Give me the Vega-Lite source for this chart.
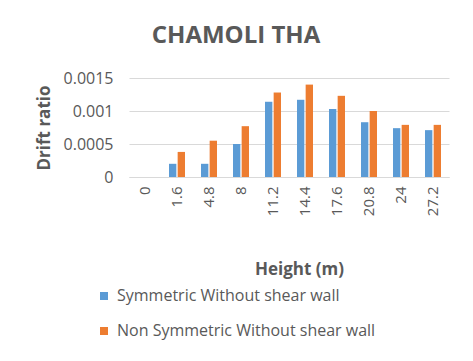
{
  "$schema": "https://vega.github.io/schema/vega-lite/v6.json",
  "width": 320,
  "height": 99,
  "autosize": {"type": "none"},
  "padding": {"left": 129, "top": 78, "right": 24, "bottom": 184},
  "background": "white",
  "title": {
    "text": "CHAMOLI THA",
    "font": "Open Sans",
    "fontSize": 24,
    "fontWeight": "bold",
    "color": "#595959",
    "anchor": "middle",
    "baseline": "alphabetic",
    "offset": 33,
    "dx": -53,
    "dy": 30
  },
  "data": {
    "values": [
      {"height": "0", "series": "Symmetric Without shear wall", "drift": 0},
      {"height": "0", "series": "Non Symmetric Without shear wall", "drift": 0},
      {"height": "1.6", "series": "Symmetric Without shear wall", "drift": 0.0002},
      {"height": "1.6", "series": "Non Symmetric Without shear wall", "drift": 0.00038},
      {"height": "4.8", "series": "Symmetric Without shear wall", "drift": 0.0002},
      {"height": "4.8", "series": "Non Symmetric Without shear wall", "drift": 0.00055},
      {"height": "8", "series": "Symmetric Without shear wall", "drift": 0.0005},
      {"height": "8", "series": "Non Symmetric Without shear wall", "drift": 0.00077},
      {"height": "11.2", "series": "Symmetric Without shear wall", "drift": 0.00114},
      {"height": "11.2", "series": "Non Symmetric Without shear wall", "drift": 0.00128},
      {"height": "14.4", "series": "Symmetric Without shear wall", "drift": 0.00117},
      {"height": "14.4", "series": "Non Symmetric Without shear wall", "drift": 0.0014},
      {"height": "17.6", "series": "Symmetric Without shear wall", "drift": 0.00103},
      {"height": "17.6", "series": "Non Symmetric Without shear wall", "drift": 0.00123},
      {"height": "20.8", "series": "Symmetric Without shear wall", "drift": 0.00083},
      {"height": "20.8", "series": "Non Symmetric Without shear wall", "drift": 0.001},
      {"height": "24", "series": "Symmetric Without shear wall", "drift": 0.00074},
      {"height": "24", "series": "Non Symmetric Without shear wall", "drift": 0.00079},
      {"height": "27.2", "series": "Symmetric Without shear wall", "drift": 0.00071},
      {"height": "27.2", "series": "Non Symmetric Without shear wall", "drift": 0.00079}
    ]
  },
  "mark": {"type": "bar"},
  "encoding": {
    "x": {
      "field": "height",
      "type": "ordinal",
      "sort": ["0", "1.6", "4.8", "8", "11.2", "14.4", "17.6", "20.8", "24", "27.2"],
      "scale": {"paddingInner": 0.5, "paddingOuter": 0.25},
      "axis": {
        "title": "Height (m)",
        "titleFont": "Open Sans",
        "titleFontSize": 17,
        "titleFontWeight": "bold",
        "titleColor": "#595959",
        "titleX": 170,
        "titleY": 84,
        "titleBaseline": "top",
        "labelAngle": -90,
        "labelFont": "Open Sans",
        "labelFontSize": 15,
        "labelColor": "#595959",
        "labelPadding": 9,
        "ticks": false,
        "domainColor": "#d9d9d9",
        "grid": false
      }
    },
    "xOffset": {
      "field": "series",
      "type": "nominal",
      "sort": ["Symmetric Without shear wall", "Non Symmetric Without shear wall"],
      "scale": {"paddingInner": 0.15}
    },
    "y": {
      "field": "drift",
      "type": "quantitative",
      "scale": {"domain": [0, 0.0015], "nice": false},
      "axis": {
        "values": [0, 0.0005, 0.001, 0.0015],
        "format": "~g",
        "title": "Drift ratio",
        "titleFont": "Open Sans",
        "titleFontSize": 17,
        "titleFontWeight": "bold",
        "titleColor": "#595959",
        "titlePadding": 10,
        "labelFont": "Open Sans",
        "labelFontSize": 16,
        "labelColor": "#595959",
        "labelPadding": 16,
        "ticks": false,
        "domain": false,
        "gridColor": "#d9d9d9"
      }
    },
    "color": {
      "field": "series",
      "type": "nominal",
      "sort": ["Symmetric Without shear wall", "Non Symmetric Without shear wall"],
      "scale": {"range": ["#5b9bd5", "#ed7d31"]},
      "legend": {
        "title": null,
        "orient": "none",
        "legendX": -33,
        "legendY": 210,
        "direction": "vertical",
        "symbolType": "square",
        "symbolSize": 64,
        "symbolStrokeWidth": 0,
        "labelFont": "Open Sans",
        "labelFontSize": 16,
        "labelColor": "#595959",
        "labelOffset": 5,
        "rowPadding": 19,
        "labelLimit": 400
      }
    }
  },
  "config": {"view": {"stroke": null}}
}
